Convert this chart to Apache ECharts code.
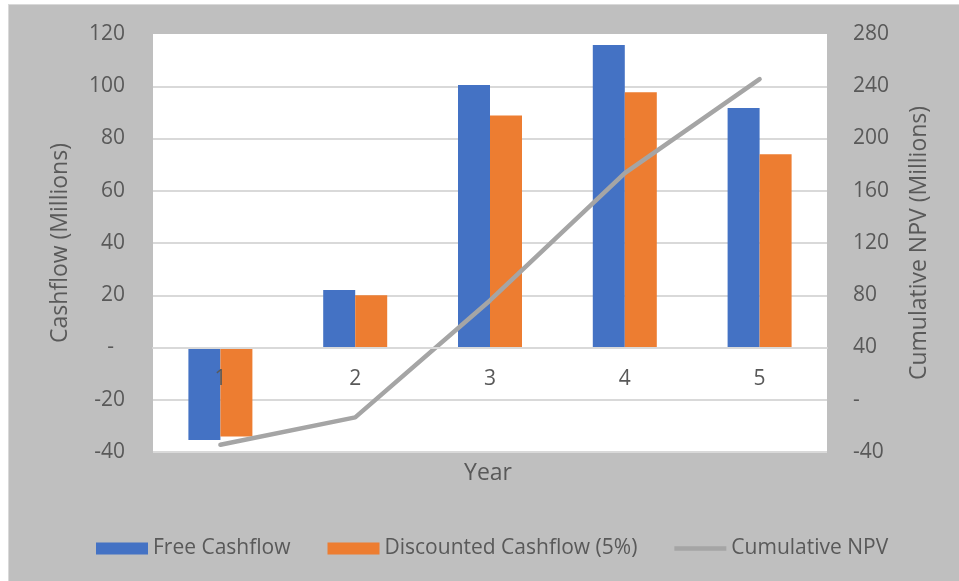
<!DOCTYPE html>
<html>
<head>
<meta charset="utf-8">
<script src="https://cdn.jsdelivr.net/npm/echarts@6/dist/echarts.min.js"></script>
<style>
  html, body { margin: 0; padding: 0; background: #ffffff; }
  #frame { position: absolute; left: 8px; top: 4px; width: 951px; height: 577px; background: #bfbfbf; border-left: 1px solid #d9d9d9; border-top: 1px solid #d9d9d9; box-sizing: border-box; }
  #chart { position: absolute; left: 0; top: 0; width: 959px; height: 581px; }
</style>
</head>
<body>
<div id="frame"></div>
<div id="chart"></div>
<script>
const years = ['1', '2', '3', '4', '5'];
const freeCashflow = [-35.4, 22, 100.5, 115.8, 91.7];
const discountedCashflow = [-34.1, 20, 88.8, 97.7, 74];
const cumulativeNPV = [-34.5, -13.5, 76, 173.5, 245.5];
const leftTicks = { min: -40, max: 120, interval: 20 };
const rightTicks = { min: -40, max: 280, interval: 40 };

const txt = '#595959';
const font = "'Open Sans', 'Noto Sans', sans-serif";

const gridTop = 34, gridBottomY = 452;
// category axis sits on the zero line of the left value axis
const zeroOffset = -(gridBottomY - gridTop) * (0 - leftTicks.min) / (leftTicks.max - leftTicks.min);

const chart = echarts.init(document.getElementById('chart'), null, { renderer: 'canvas' });
chart.setOption({
  backgroundColor: 'transparent',
  textStyle: { fontFamily: font },
  animation: false,
  grid: { left: 153, top: gridTop, right: 132, bottom: 581 - gridBottomY, containLabel: false,
    show: true, backgroundColor: '#ffffff', borderWidth: 0 },
  legend: {
    left: 91, top: 533,
    itemWidth: 52, itemHeight: 12, itemGap: 37,
    textStyle: { color: txt, fontSize: 21, fontFamily: font },
    data: [
      { name: 'Free Cashflow', icon: 'rect' },
      { name: 'Discounted Cashflow (5%)', icon: 'rect' },
      { name: 'Cumulative NPV', icon: 'path://M0,0L56,0L56,5L0,5Z', itemStyle: { color: '#a5a5a5' } }
    ]
  },
  xAxis: {
    type: 'category',
    data: years,
    z: 10,
    position: 'bottom',
    offset: zeroOffset,
    axisLine: { show: true, onZero: false, lineStyle: { color: '#d9d9d9', width: 2 } },
    axisTick: { show: false },
    axisLabel: { color: txt, fontSize: 21, margin: 21, fontFamily: font },
    splitLine: { show: false }
  },
  yAxis: [
    {
      type: 'value',
      min: leftTicks.min, max: leftTicks.max, interval: leftTicks.interval,
      name: 'Cashflow (Millions)',
      nameLocation: 'middle', nameGap: 81,
      nameTextStyle: { color: txt, fontSize: 23, fontFamily: font },
      axisLine: { show: false }, axisTick: { show: false },
      axisLabel: { color: txt, fontSize: 21, margin: 28, fontFamily: font,
        formatter: v => v === 0 ? '-  ' : String(v) },
      splitLine: { show: true, showMaxLine: false, lineStyle: { color: '#d9d9d9', width: 2 } }
    },
    {
      type: 'value',
      min: rightTicks.min, max: rightTicks.max, interval: rightTicks.interval,
      name: 'Cumulative NPV (Millions)',
      nameLocation: 'middle', nameGap: 81,
      nameTextStyle: { color: txt, fontSize: 23, fontFamily: font },
      axisLine: { show: false }, axisTick: { show: false },
      axisLabel: { color: txt, fontSize: 21, margin: 26, fontFamily: font,
        formatter: v => v === 0 ? '-' : String(v) },
      splitLine: { show: false }
    }
  ],
  series: [
    {
      name: 'Free Cashflow', type: 'bar', data: freeCashflow,
      barWidth: 32, barGap: '0%',
      itemStyle: { color: '#4472c4' }
    },
    {
      name: 'Discounted Cashflow (5%)', type: 'bar', data: discountedCashflow,
      barWidth: 32, barGap: '0%',
      itemStyle: { color: '#ed7d31' }
    },
    {
      name: 'Cumulative NPV', type: 'line', yAxisIndex: 1, data: cumulativeNPV,
      symbol: 'none', z: 5,
      itemStyle: { color: '#a5a5a5' },
      lineStyle: { color: '#a5a5a5', width: 4.5, cap: 'round', join: 'round' }
    }
  ],
  graphic: [
    {
      type: 'text', x: 488, y: 473,
      style: { text: 'Year', fill: txt, align: 'center', verticalAlign: 'middle',
        font: "23px 'Open Sans', 'Noto Sans', sans-serif" }
    }
  ]
});
</script>
</body>
</html>
